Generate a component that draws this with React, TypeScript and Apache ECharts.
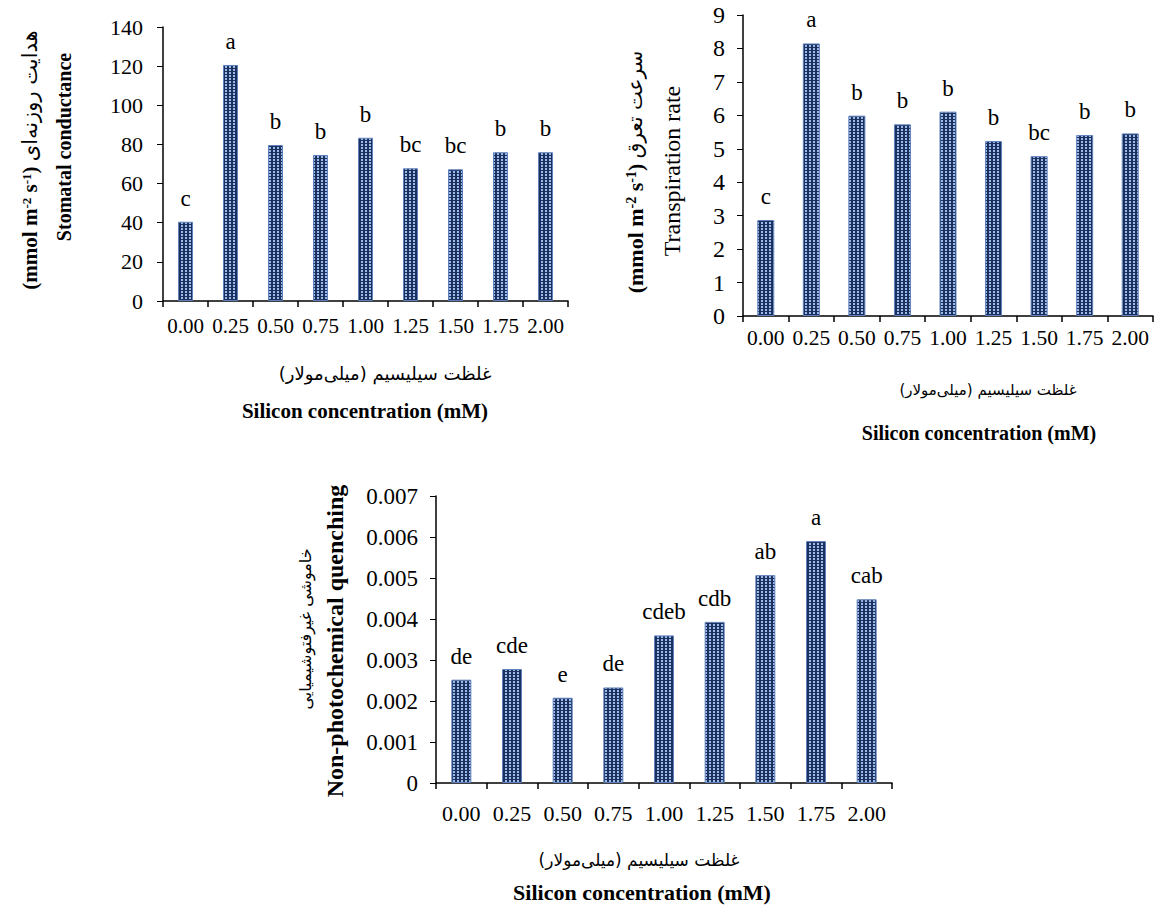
import React, { useEffect, useRef } from 'react';
import * as echarts from 'echarts';

// Silicon levels (mM) shared by all three panels
const categories = ['0.00', '0.25', '0.50', '0.75', '1.00', '1.25', '1.50', '1.75', '2.00'];

// Stomatal conductance (mmol m-2 s-1) and Duncan groups
const conductance = [40.5, 120.6, 79.7, 74.6, 83.4, 67.8, 67.3, 76.0, 76.0];
const conductanceGroups = ['c', 'a', 'b', 'b', 'b', 'bc', 'bc', 'b', 'b'];

// Transpiration rate (mmol m-2 s-1) and Duncan groups
const transpiration = [2.87, 8.15, 5.99, 5.73, 6.11, 5.23, 4.78, 5.41, 5.46];
const transpirationGroups = ['c', 'a', 'b', 'b', 'b', 'b', 'bc', 'b', 'b'];

// Non-photochemical quenching and Duncan groups
const npq = [0.00252, 0.00278, 0.00208, 0.00233, 0.0036, 0.00393, 0.00507, 0.0059, 0.00448];
const npqGroups = ['de', 'cde', 'e', 'de', 'cdeb', 'cdb', 'ab', 'a', 'cab'];

const SERIF = '"Liberation Serif", "Times New Roman", serif';
const FA = '"DejaVu Sans", sans-serif';
const RLM = '\u200F';
const xTitleFa = RLM + 'غلظت سیلیسیم (میلی\u200Cمولار)' + RLM;
const xTitleEn = 'Silicon concentration (mM)';

function makeTexture(): string {
  const c = document.createElement('canvas');
  c.width = 4;
  c.height = 3;
  const ctx = c.getContext('2d')!;
  ctx.fillStyle = '#1b305c';
  ctx.fillRect(0, 0, 4, 3);
  ctx.fillStyle = '#9dbbea';
  ctx.fillRect(1, 0, 2, 2);
  return c.toDataURL();
}

const centered = { align: 'center', verticalAlign: 'middle', textAlign: 'center', textVerticalAlign: 'middle', fill: '#000' };

function serifFont(size: number, bold = false) {
  return `${bold ? 'bold ' : ''}${size}px ${SERIF}`;
}

export default function App() {
  const ref = useRef<HTMLDivElement>(null);

  useEffect(() => {
    if (!ref.current) return;
    const chart = echarts.init(ref.current, undefined, { renderer: 'svg' });
    const texture = makeTexture();

    const grids = [
      { left: 163, top: 27, width: 405, height: 274 },
      { left: 743, top: 15, width: 410, height: 301 },
      { left: 436, top: 496, width: 456, height: 287 },
    ];
    const xLabelSize = [21, 21.5, 22];
    const xLabelMargin = [14, 11, 19];
    const yLabelSize = [22, 24, 23];
    const yLabelMargin = [20, 18, 18];
    const yMax = [140, 9, 0.007];
    const yStep = [20, 1, 0.001];
    const barWidths = [15, 17, 20];
    const values = [conductance, transpiration, npq];
    const groups = [conductanceGroups, transpirationGroups, npqGroups];

    const axisLine = { show: true, lineStyle: { color: '#000', width: 1.5 } };

    const option: any = {
      animation: false,
      backgroundColor: '#fff',
      grid: grids.map((g) => ({ ...g, containLabel: false })),
      xAxis: grids.map((_, i) => ({
        type: 'category',
        gridIndex: i,
        data: categories,
        boundaryGap: true,
        axisLine,
        axisTick: { show: true, length: 6, lineStyle: { color: '#000', width: 1.5 } },
        axisLabel: {
          interval: 0,
          margin: xLabelMargin[i],
          fontFamily: SERIF,
          fontSize: xLabelSize[i],
          color: '#000',
        },
        splitLine: { show: false },
      })),
      yAxis: grids.map((_, i) => ({
        type: 'value',
        gridIndex: i,
        min: 0,
        max: yMax[i],
        interval: yStep[i],
        axisLine,
        axisTick: { show: true, length: 6, lineStyle: { color: '#000', width: 1 } },
        axisLabel: {
          margin: yLabelMargin[i],
          fontFamily: SERIF,
          fontSize: yLabelSize[i],
          color: '#000',
          formatter: (v: number) => (i === 2 ? (v === 0 ? '0' : v.toFixed(3)) : String(Math.round(v))),
        },
        splitLine: { show: false },
      })),
      series: values.map((data, i) => ({
        type: 'bar',
        xAxisIndex: i,
        yAxisIndex: i,
        data,
        barWidth: barWidths[i],
        itemStyle: {
          color: { image: texture, repeat: 'repeat', imageWidth: 4, imageHeight: 3 },
          borderColor: '#5f80bb',
          borderWidth: 1,
        },
        label: {
          show: true,
          position: 'top',
          distance: 12,
          formatter: (p: any) => groups[i][p.dataIndex],
          fontFamily: SERIF,
          fontSize: 23,
          color: '#000',
        },
      })),
      graphic: [
        // Panel 1 axis titles
        {
          type: 'text', x: 64, y: 147, rotation: Math.PI / 2,
          style: { ...centered, text: 'Stomatal conductance', font: serifFont(20, true) },
        },
        {
          type: 'text', x: 30, y: 160, rotation: Math.PI / 2,
          style: {
            ...centered,
            text: '{u|(mmol m}{s|-2}{u| s}{s|-1}{u|) }{f|هدایت روزنه\u200Cای}',
            rich: {
              u: { fontFamily: SERIF, fontSize: 21, fontWeight: 'bold', fill: '#000' },
              s: { fontFamily: SERIF, fontSize: 13, fontWeight: 'bold', fill: '#000', verticalAlign: 'top' },
              f: { fontFamily: FA, fontSize: 21, fill: '#000' },
            },
          },
        },
        {
          type: 'text', x: 385, y: 373,
          style: { ...centered, text: xTitleFa, font: `18px ${FA}` },
        },
        {
          type: 'text', x: 365, y: 411,
          style: { ...centered, text: xTitleEn, font: serifFont(21, true) },
        },
        // Panel 2 axis titles
        {
          type: 'text', x: 672, y: 171, rotation: Math.PI / 2,
          style: { ...centered, text: 'Transpiration rate', font: serifFont(24) },
        },
        {
          type: 'text', x: 635, y: 172, rotation: Math.PI / 2,
          style: {
            ...centered,
            text: '{u|(mmol m}{s|-2}{u| s}{s|-1}{u|) }{f|سرعت تعرق}',
            rich: {
              u: { fontFamily: SERIF, fontSize: 22, fontWeight: 'bold', fill: '#000' },
              s: { fontFamily: SERIF, fontSize: 14, fontWeight: 'bold', fill: '#000', verticalAlign: 'top' },
              f: { fontFamily: FA, fontSize: 20, fill: '#000' },
            },
          },
        },
        {
          type: 'text', x: 988, y: 390,
          style: { ...centered, text: xTitleFa, font: `15px ${FA}` },
        },
        {
          type: 'text', x: 979, y: 433,
          style: { ...centered, text: xTitleEn, font: serifFont(20, true) },
        },
        // Panel 3 axis titles
        {
          type: 'text', x: 335, y: 641, rotation: Math.PI / 2,
          style: { ...centered, text: 'Non-photochemical quenching', font: serifFont(24, true) },
        },
        {
          type: 'text', x: 305, y: 629, rotation: Math.PI / 2,
          style: { ...centered, text: 'خاموشی غیرفتوشیمیایی', font: `16px ${FA}` },
        },
        {
          type: 'text', x: 639, y: 860,
          style: { ...centered, text: xTitleFa, font: `17px ${FA}` },
        },
        {
          type: 'text', x: 642, y: 892,
          style: { ...centered, text: xTitleEn, font: serifFont(22, true) },
        },
      ],
    };

    chart.setOption(option);
    return () => chart.dispose();
  }, []);

  return (
    <div
      ref={ref}
      style={{ position: 'fixed', left: 0, top: 0, width: 1155, height: 909, background: '#fff' }}
    />
  );
}
